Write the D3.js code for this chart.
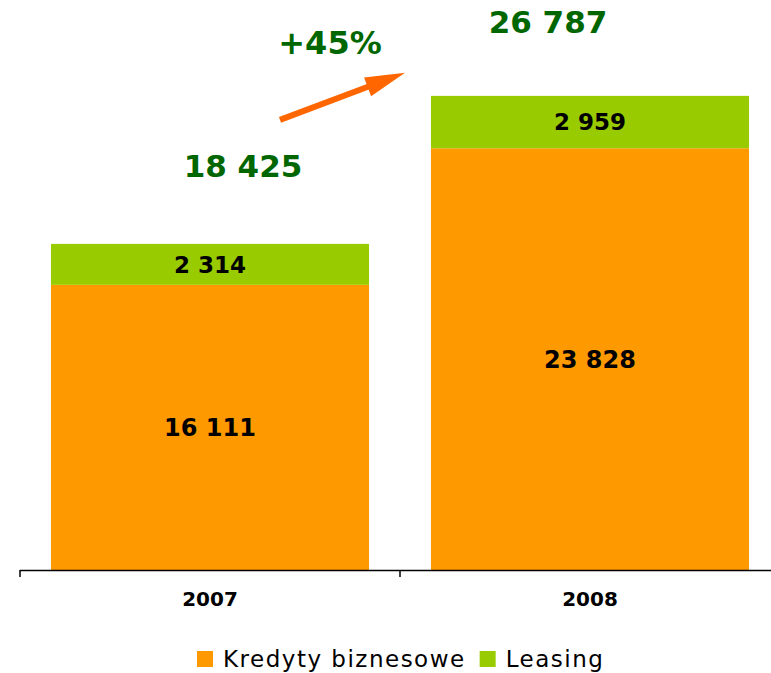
<!DOCTYPE html>
<html>
<head>
<meta charset="utf-8">
<script src="https://cdn.jsdelivr.net/npm/d3@7"></script>
<style>
  html, body { margin: 0; padding: 0; background: #ffffff; }
  svg { display: block; }
  text { font-family: "DejaVu Sans", Verdana, sans-serif; }
</style>
</head>
<body>
<svg id="chart" width="771" height="673"></svg>
<script>
// ---- data ----
const categories = ["2007", "2008"];
const kredyty = [16111, 23828];
const leasing = [2314, 2959];
const totals = [18425, 26787];
const seriesNames = ["Kredyty biznesowe", "Leasing"];
const growthLabel = "+45%";

// ---- styles ----
const colors = ["#FF9900", "#99CC00"];
const totalColor = "#006600";
const arrowColor = "#FF6600";

const svg = d3.select("#chart");

const x = d3.scaleBand().domain(categories).range([20, 780]).paddingInner(0).paddingOuter(0);
const y = d3.scaleLinear().domain([0, 30000]).range([570, 39]);
const barW = x.bandwidth() * 0.837;

const rows = categories.map((c, i) => ({ cat: c, Kredyty: kredyty[i], Leasing: leasing[i], total: totals[i] }));
const stack = d3.stack().keys(["Kredyty", "Leasing"]);
const layers = stack(rows);

const g = svg.append("g");

layers.forEach((layer, li) => {
  g.selectAll(null).data(layer).enter().append("rect")
    .attr("x", d => x(d.data.cat) + (x.bandwidth() - barW) / 2)
    .attr("width", barW)
    .attr("y", d => y(d[1]))
    .attr("height", d => y(d[0]) - y(d[1]))
    .attr("fill", colors[li]);

  g.selectAll(null).data(layer).enter().append("text")
    .attr("x", d => x(d.data.cat) + x.bandwidth() / 2)
    .attr("y", d => (y(d[0]) + y(d[1])) / 2)
    .attr("dy", "0.36em")
    .attr("text-anchor", "middle")
    .attr("font-weight", "bold")
    .attr("font-size", li === 0 ? 24 : 23)
    .attr("fill", "#000")
    .text(d => d3.format(",")(d[1] - d[0]).replace(/,/g, " "));
});

// totals (annotation offsets relative to bar tops)
const totalOffsets = [{ dx: 33, dy: -78 }, { dx: -42, dy: -74 }];
g.selectAll(null).data(rows).enter().append("text")
  .attr("x", (d, i) => x(d.cat) + x.bandwidth() / 2 + totalOffsets[i].dx)
  .attr("y", (d, i) => y(d.total) + totalOffsets[i].dy)
  .attr("dy", "0.36em")
  .attr("text-anchor", "middle")
  .attr("font-weight", "bold")
  .attr("font-size", 31)
  .attr("fill", totalColor)
  .text(d => d3.format(",")(d.total).replace(/,/g, " "));

// growth annotation
const c0 = x(categories[0]) + x.bandwidth() / 2;
const c1 = x(categories[1]) + x.bandwidth() / 2;
const mid = (c0 + c1) / 2; // 400
g.append("text")
  .attr("x", mid - 70)
  .attr("y", y(totals[1]) - 53)
  .attr("dy", "0.36em")
  .attr("text-anchor", "middle")
  .attr("font-weight", "bold")
  .attr("font-size", 32)
  .attr("fill", totalColor)
  .text(growthLabel);

// arrow
const ax0 = mid - 120, ay0 = y(totals[1]) + 24;
const ax1 = mid + 5, ay1 = y(totals[1]) - 23;
const ang = Math.atan2(ay1 - ay0, ax1 - ax0);
const headLen = 40, headHalf = 10;
const bx = ax1 - headLen * Math.cos(ang), by = ay1 - headLen * Math.sin(ang);
g.append("line")
  .attr("x1", ax0).attr("y1", ay0)
  .attr("x2", bx + 4 * Math.cos(ang)).attr("y2", by + 4 * Math.sin(ang))
  .attr("stroke", arrowColor).attr("stroke-width", 6);
g.append("path")
  .attr("d", d3.line()([
    [ax1, ay1],
    [bx - headHalf * Math.sin(ang), by + headHalf * Math.cos(ang)],
    [bx + headHalf * Math.sin(ang), by - headHalf * Math.cos(ang)]
  ]) + "Z")
  .attr("fill", arrowColor);

// axis
const axisG = g.append("g");
axisG.append("line")
  .attr("x1", x.range()[0]).attr("x2", x.range()[1])
  .attr("y1", y(0) + 0.5).attr("y2", y(0) + 0.5)
  .attr("stroke", "#000").attr("stroke-width", 1.5);
const tickPos = categories.map(c => x(c)).concat([x.range()[1]]);
axisG.selectAll(null).data(tickPos).enter().append("line")
  .attr("x1", d => d).attr("x2", d => d)
  .attr("y1", y(0)).attr("y2", y(0) + 7)
  .attr("stroke", "#000").attr("stroke-width", 1.5);
axisG.selectAll(null).data(categories).enter().append("text")
  .attr("x", d => x(d) + x.bandwidth() / 2)
  .attr("y", y(0) + 29)
  .attr("dy", "0.36em")
  .attr("text-anchor", "middle")
  .attr("font-weight", "bold")
  .attr("font-size", 20)
  .attr("fill", "#000")
  .text(d => d);

// legend
const legend = svg.append("g").attr("transform", "translate(197,651)");
let lx = 0;
seriesNames.forEach((name, i) => {
  const item = legend.append("g").attr("transform", `translate(${lx},0)`);
  item.append("rect").attr("width", 16).attr("height", 16).attr("fill", colors[i]);
  const t = item.append("text")
    .attr("x", 26).attr("y", 16)
    .attr("font-size", 23)
    .attr("letter-spacing", 1.5)
    .attr("fill", "#000")
    .text(name);
  lx += 26 + t.node().getComputedTextLength() + 14;
});
</script>
</body>
</html>
